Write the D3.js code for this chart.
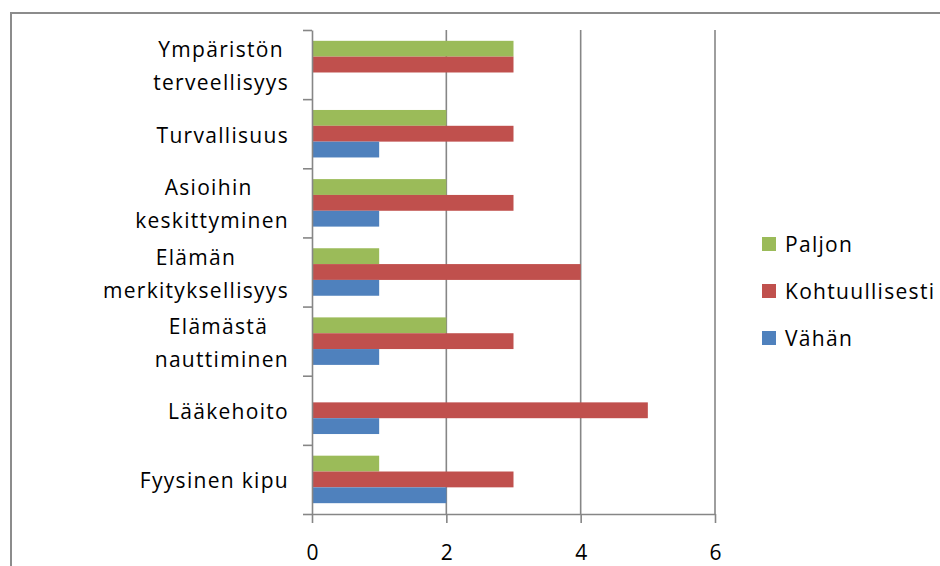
<!DOCTYPE html>
<html><head><meta charset="utf-8">
<script src="https://cdn.jsdelivr.net/npm/d3@7"></script>
<style>body{margin:0;background:#fff;} svg{display:block;}</style>
</head><body>
<svg id="c" width="940" height="566"></svg>
<script>
const categories = ["Ympäristön\nterveellisyys","Turvallisuus","Asioihin \nkeskittyminen","Elämän\nmerkityksellisyys","Elämästä \nnauttiminen","Lääkehoito","Fyysinen kipu"];
const seriesNames = ["Paljon","Kohtuullisesti","Vähän"];
const paljon =         [3,2,2,1,2,0,1];
const kohtuullisesti = [3,3,3,4,3,5,3];
const vahan =          [0,1,1,1,1,1,2];
const seriesValues = [paljon, kohtuullisesti, vahan];
const colors = ["#9BBB59","#C0504D","#4F81BD"];
const xTicks = [0,2,4,6];

const FONT = "'Open Sans', sans-serif";
const FS = 21;
const svg = d3.select("#c");
const grid = "#868686";

svg.append("rect").attr("x",11).attr("y",13).attr("width",1000).attr("height",1000)
  .attr("fill","none").attr("stroke","#8c8c8c").attr("stroke-width",2);

const x = d3.scaleLinear().domain([0,6]).range([312,715]);
const y = d3.scaleBand().domain(categories).range([30,514]).padding(0);
const step = y.step();
const bh = step*0.229;
const off = (step-3*bh)/2;

// gridlines
svg.append("g").selectAll("line").data(xTicks.filter(d=>d>0)).join("line")
  .attr("x1",d=>x(d)).attr("x2",d=>x(d)).attr("y1",30).attr("y2",514)
  .attr("stroke",grid).attr("stroke-width",1.6);

// bars
categories.forEach((c,i)=>{
  seriesValues.forEach((vals,s)=>{
    if(vals[i]>0){
      svg.append("rect").attr("x",x(0)).attr("y",y(c)+off+s*bh)
        .attr("width",x(vals[i])-x(0)).attr("height",bh).attr("fill",colors[s]);
    }
  });
});

// y axis boundaries
const yb = d3.scaleLinear().domain([0,categories.length]).range([30,514]);
const yAx = svg.append("g").attr("transform","translate(312,0)")
  .call(d3.axisLeft(yb).tickValues(d3.range(categories.length+1)).tickSize(9).tickSizeOuter(0).tickFormat(""));
yAx.selectAll("line,path").attr("stroke",grid).attr("stroke-width",1.6);

// x axis
const xAx = svg.append("g").attr("transform","translate(0,514)")
  .call(d3.axisBottom(x).tickValues(xTicks).tickSize(9).tickSizeOuter(0).tickPadding(22).tickFormat(d3.format("d")));
xAx.selectAll("line,path").attr("stroke",grid).attr("stroke-width",1.6);
xAx.selectAll("text").attr("font-family",FONT).attr("font-size",FS).attr("fill","#000");

// category labels
const lg = svg.append("g").attr("font-family",FONT).attr("font-size",FS).attr("fill","#000").attr("letter-spacing","1.3px");
categories.forEach(c=>{
  const lines = c.split("\n");
  const cy = y(c)+step/2;
  const t = lg.append("text").attr("text-anchor","middle");
  const n = lines.length;
  lines.forEach((ln,k)=>{
    t.append("tspan").attr("y", cy+9+(k-(n-1)/2)*33).text(ln);
  });
  let maxW = 0;
  t.selectAll("tspan").each(function(){ maxW=Math.max(maxW,this.getComputedTextLength()); });
  t.selectAll("tspan").attr("x", 289-maxW/2);
});

// legend
const leg = svg.append("g").attr("font-family",FONT).attr("font-size",FS).attr("letter-spacing","1.3px");
const legY = d3.scalePoint().domain(seriesNames).range([237,331]);
seriesNames.forEach((s,i)=>{
  leg.append("rect").attr("x",762).attr("y",legY(s)).attr("width",14).attr("height",14).attr("fill",colors[i]);
  leg.append("text").attr("x",785).attr("y",legY(s)+15).text(s);
});
</script>
</body></html>
